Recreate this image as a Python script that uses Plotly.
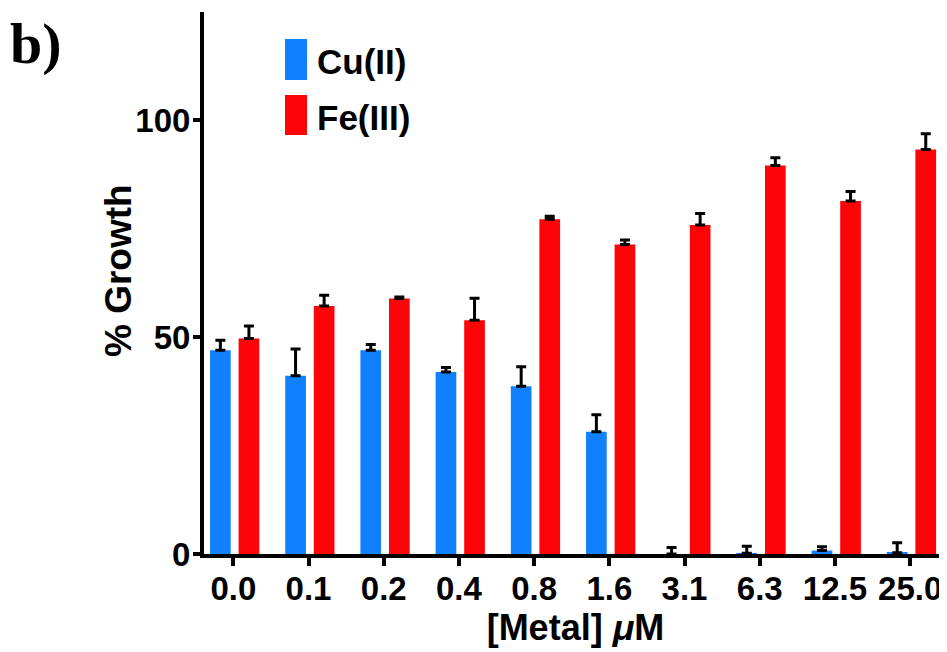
import plotly.graph_objects as go

categories = ["0.0", "0.1", "0.2", "0.4", "0.8", "1.6", "3.1", "6.3", "12.5", "25.0"]
cu_values = [47.0, 41.1, 47.0, 42.0, 38.7, 28.2, 0.0, 0.2, 0.8, 0.3]
cu_errors = [2.3, 6.2, 1.3, 1.0, 4.5, 3.9, 1.5, 1.6, 0.9, 2.3]
fe_values = [49.7, 57.2, 58.9, 53.9, 77.2, 71.4, 75.9, 89.6, 81.4, 93.3]
fe_errors = [2.9, 2.5, 0.4, 5.1, 0.7, 1.0, 2.6, 1.8, 2.2, 3.6]
y_tickvals = [0, 50, 100]

BLUE = "#1180FF"
RED = "#FC0408"
FONT = "Liberation Sans, Arial, Helvetica, sans-serif"

# page body has an 8px default margin; figure is sized to compensate
OFF = 8
W, H = 947 - OFF, 652 - OFF
PLOT_L, PLOT_R, PLOT_T, PLOT_B = 204 - OFF, 947 - OFF, 12 - OFF, 554 - OFF

fig = go.Figure()
fig.add_trace(go.Bar(
    x=categories, y=cu_values, name="Cu(II)",
    marker=dict(color=BLUE, line=dict(width=0)),
    width=0.275, offset=-0.31,
    error_y=dict(type="data", array=cu_errors, arrayminus=[0] * len(cu_errors),
                 symmetric=False, color="black", thickness=3, width=5),
    showlegend=False,
))
fig.add_trace(go.Bar(
    x=categories, y=fe_values, name="Fe(III)",
    marker=dict(color=RED, line=dict(width=0)),
    width=0.275, offset=0.07,
    error_y=dict(type="data", array=fe_errors, arrayminus=[0] * len(fe_errors),
                 symmetric=False, color="black", thickness=3, width=5),
    showlegend=False,
))

def px_x(p):
    return (p - OFF - PLOT_L) / (PLOT_R - PLOT_L)
def px_y(p):
    return (PLOT_B - (p - OFF)) / (PLOT_B - PLOT_T)

legend_items = [("Cu(II)", BLUE, 39, 80), ("Fe(III)", RED, 95, 135)]
shapes = []
annotations = []
for label, col, top, bot in legend_items:
    shapes.append(dict(type="rect", xref="paper", yref="paper",
                       x0=px_x(285), x1=px_x(307), y0=px_y(bot), y1=px_y(top),
                       fillcolor=col, line=dict(width=0)))
    annotations.append(dict(text=label, xref="paper", yref="paper",
                            x=px_x(315), y=px_y((top + bot) / 2 + 2),
                            xanchor="left", yanchor="middle", showarrow=False,
                            font=dict(family=FONT, size=35, color="black", weight="bold")))

annotations.append(dict(text="<b>b)</b>", xref="paper", yref="paper",
                        x=px_x(8), y=px_y(9), xanchor="left", yanchor="top",
                        showarrow=False,
                        font=dict(family="Liberation Serif, Times New Roman, serif",
                                  size=58, color="black")))

annotations.append(dict(text="% Growth", xref="paper", yref="paper",
                        x=px_x(118), y=px_y(271), xanchor="center", yanchor="middle",
                        textangle=-90, showarrow=False,
                        font=dict(family=FONT, size=37, color="black", weight="bold")))

fig.update_layout(
    width=W, height=H,
    margin=dict(l=PLOT_L, r=W - PLOT_R, t=PLOT_T, b=H - PLOT_B),
    paper_bgcolor="white", plot_bgcolor="white",
    barmode="overlay",
    shapes=shapes, annotations=annotations,
    font=dict(family=FONT, color="black"),
)
fig.update_xaxes(
    type="category", range=[-0.39, 9.49],
    showline=True, linecolor="black", linewidth=4,
    ticks="outside", ticklen=8, tickwidth=4, tickcolor="black",
    ticklabelstandoff=-6,
    tickfont=dict(family=FONT, size=33, color="black", weight="bold"),
    showgrid=False, zeroline=False,
    title=dict(text="[Metal] <i>μ</i>M", standoff=4,
               font=dict(family=FONT, size=36, color="black", weight="bold")),
)
fig.update_yaxes(
    range=[0, 125], tickvals=y_tickvals,
    showline=True, linecolor="black", linewidth=4,
    ticks="outside", ticklen=7, tickwidth=4, tickcolor="black",
    ticklabelstandoff=-4,
    tickfont=dict(family=FONT, size=33, color="black", weight="bold"),
    showgrid=False, zeroline=False,
)

fig.write_html("out.html")
